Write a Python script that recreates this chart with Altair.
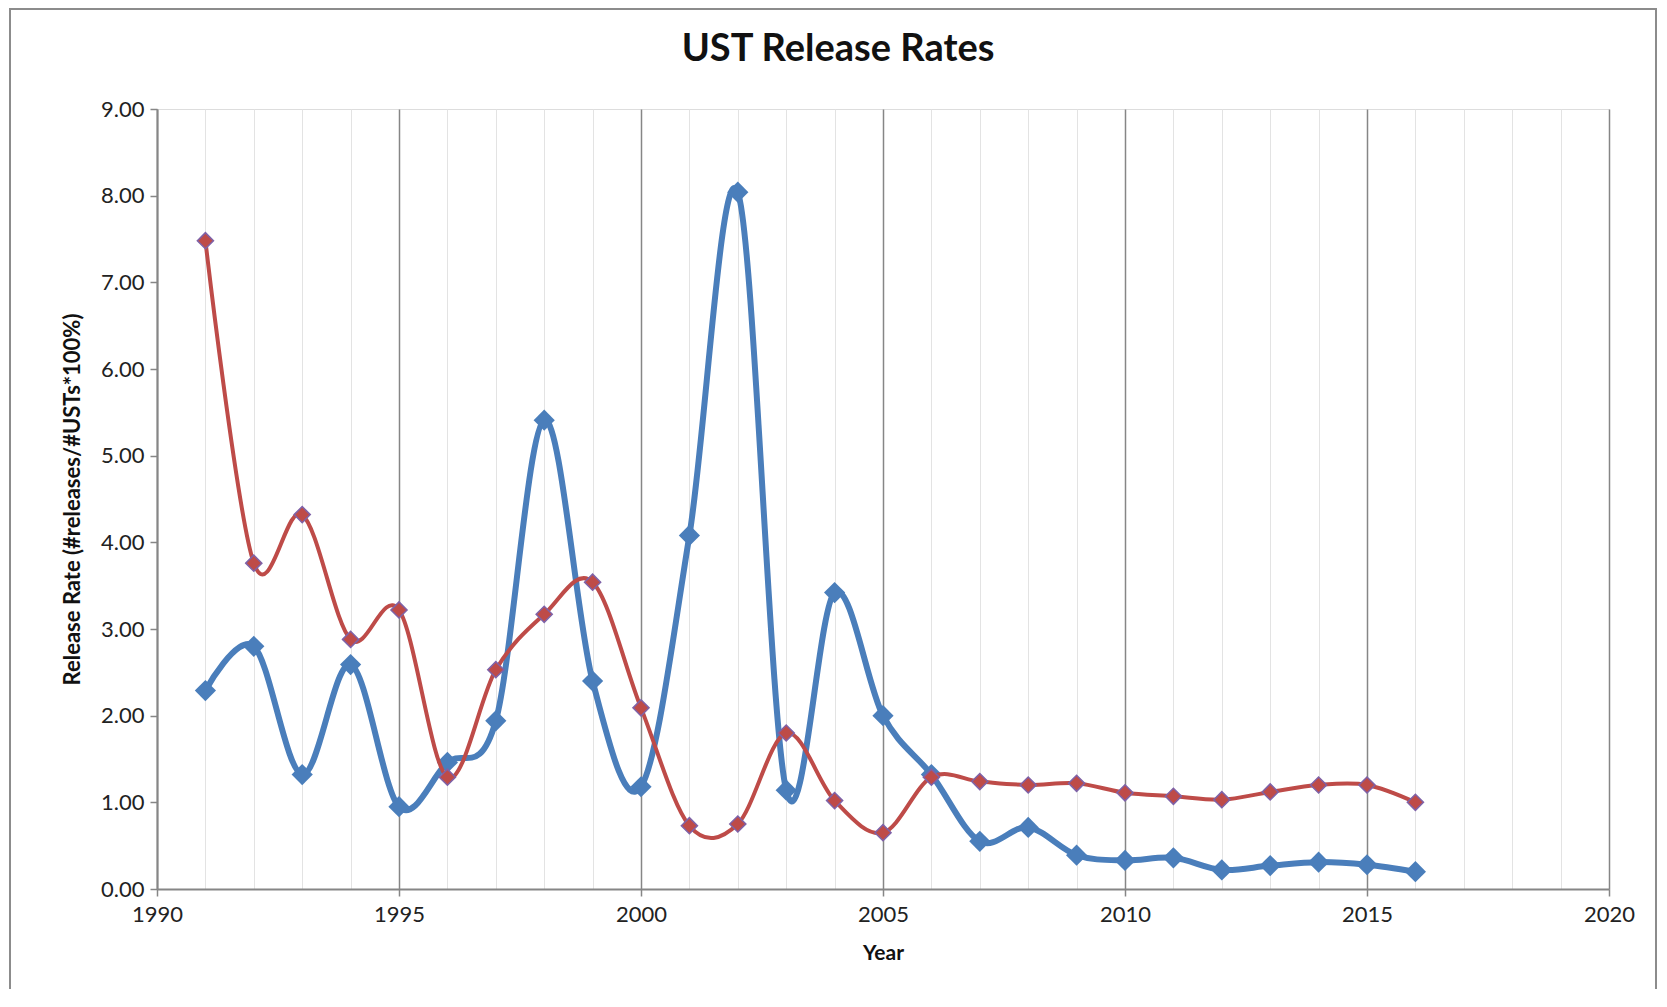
import altair as alt
import pandas as pd

years = list(range(1991, 2017))
blue_rates = [2.29, 2.80, 1.32, 2.59, 0.95, 1.46, 1.94, 5.41, 2.40, 1.18,
              4.08, 8.04, 1.14, 3.42, 2.00, 1.32, 0.55, 0.71, 0.39, 0.33,
              0.36, 0.22, 0.27, 0.31, 0.28, 0.20]
red_rates = [7.48, 3.76, 4.32, 2.88, 3.22, 1.29, 2.53, 3.17, 3.54, 2.09,
             0.73, 0.75, 1.80, 1.02, 0.65, 1.29, 1.24, 1.20, 1.22, 1.11,
             1.07, 1.03, 1.12, 1.20, 1.20, 1.00]
x_ticks = list(range(1990, 2021))
y_ticks = [0, 1, 2, 3, 4, 5, 6, 7, 8, 9]

W, H = 1452, 780
FONT = "Lato"
AXIS_GRAY = "#868686"

blue_df = pd.DataFrame({"Year": years, "Rate": blue_rates})
red_df = pd.DataFrame({"Year": years, "Rate": red_rates})

x_enc = alt.X(
    "Year:Q",
    scale=alt.Scale(domain=[1990, 2020], nice=False, zero=False),
    axis=alt.Axis(
        title="Year",
        values=x_ticks,
        labelExpr="datum.value % 5 === 0 ? datum.label : ''",
        format="d",
        grid=True,
        gridColor=alt.condition("datum.value % 5 === 0", alt.value(AXIS_GRAY), alt.value("#e3e3e3")),
        gridWidth=alt.condition("datum.value % 5 === 0", alt.value(1.5), alt.value(1)),
        tickOpacity=alt.condition("datum.value % 5 === 0", alt.value(1), alt.value(0)),
        tickColor=AXIS_GRAY,
        tickSize=7,
        tickWidth=1.5,
        domainColor=AXIS_GRAY,
        domainWidth=2,
        labelFont=FONT,
        labelFontSize=22,
        labelColor="#222222",
        labelPadding=8,
        labelFlush=False,
        titleFont=FONT,
        titleFontSize=21,
        titleFontWeight="bold",
        titleColor="#111111",
        titlePadding=17,
    ),
)
y_enc = alt.Y(
    "Rate:Q",
    scale=alt.Scale(domain=[0, 9], nice=False),
    axis=alt.Axis(
        title="Release Rate (#releases/#USTs*100%)",
        values=y_ticks,
        format=".2f",
        grid=False,
        tickColor=AXIS_GRAY,
        tickSize=7,
        tickWidth=1.5,
        domainColor=AXIS_GRAY,
        domainWidth=2,
        labelFont=FONT,
        labelFontSize=22,
        labelColor="#222222",
        labelPadding=6,
        labelFlush=False,
        titleFont=FONT,
        titleFontSize=22,
        titleFontWeight="bold",
        titleColor="#111111",
        titlePadding=16,
    ),
)

frame = alt.Chart(pd.DataFrame({"a": [0]})).mark_rect(
    fill="transparent", stroke="#8c8c8c", strokeWidth=2, clip=False
).encode(
    x=alt.value(-147), x2=alt.value(1499),
    y=alt.value(-100), y2=alt.value(888),
)

blue_line = alt.Chart(blue_df).mark_line(
    color="#4A7EBB", strokeWidth=6, interpolate="cardinal", tension=0
).encode(x=x_enc, y=y_enc)
blue_pts = alt.Chart(blue_df).mark_point(
    shape="diamond", filled=True, size=450, color="#4A7EBB", opacity=1
).encode(x="Year:Q", y="Rate:Q")

red_line = alt.Chart(red_df).mark_line(
    color="#BE4B48", strokeWidth=4, interpolate="cardinal", tension=0
).encode(x="Year:Q", y="Rate:Q")
red_pts = alt.Chart(red_df).mark_point(
    shape="diamond", filled=True, size=260, fill="#BE4B48",
    stroke="#7E62A8", strokeWidth=1.5, opacity=1
).encode(x="Year:Q", y="Rate:Q")

chart = alt.layer(frame, blue_line, blue_pts, red_line, red_pts).properties(
    width=W,
    height=H,
    title=alt.TitleParams(
        "UST Release Rates",
        font=FONT,
        fontSize=38,
        fontWeight="bold",
        color="#111111",
        anchor="middle",
        frame="group",
        dx=-45,
        offset=-61,
    ),
    autosize=alt.AutoSizeParams(type="none"),
    padding={"left": 149, "top": 101, "right": 48, "bottom": 100},
).configure_view(stroke="transparent").configure(background="white")

chart.save("out.html", embed_options={"renderer": "svg", "actions": False})
